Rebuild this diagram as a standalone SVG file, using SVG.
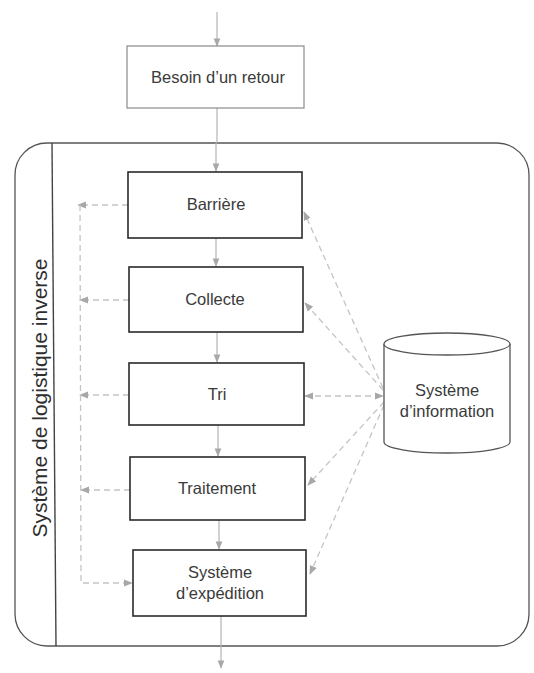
<svg xmlns="http://www.w3.org/2000/svg" width="534" height="673" viewBox="0 0 534 673">
  <style>
    .box { fill: #ffffff; stroke: #2a2a2a; stroke-width: 1.6; }
    .soft { fill: #ffffff; stroke: #8a8a8a; stroke-width: 1.2; }
    .lbl { font-family: "Liberation Sans", Arial, sans-serif; font-size: 16.5px; fill: #3a3a3a; text-anchor: middle; }
    .side { font-family: "Liberation Sans", Arial, sans-serif; font-size: 21px; fill: #2e2e2e; text-anchor: middle; }
    .flow { fill: none; stroke: #b4b4b4; stroke-width: 1.2; }
    .dash { fill: none; stroke: #c4c4c4; stroke-width: 1.3; stroke-dasharray: 6 4; }
  </style>
  <defs>
    <marker id="ah" viewBox="0 0 10 10" refX="9" refY="5" markerWidth="7" markerHeight="7" orient="auto-start-reverse">
      <path d="M0,1 L10,5 L0,9 z" fill="#a8a8a8"/>
    </marker>
  </defs>
  <rect width="534" height="673" fill="#ffffff"/>

  <!-- container frame -->
  <g id="container">
    <rect x="15" y="143" width="514" height="503" rx="32" ry="32" fill="none" stroke="#555555" stroke-width="1.3"/>
    <line x1="52" y1="143" x2="56" y2="646" stroke="#444444" stroke-width="1.4"/>
    <text class="side" transform="translate(47 398) rotate(-90)">Système de logistique inverse</text>
  </g>

  <!-- connectors -->
  <g id="connectors">
    <line class="flow" x1="217" y1="12" x2="217" y2="46" marker-end="url(#ah)"/>
    <line class="flow" x1="217" y1="108" x2="217" y2="143"/>
    <line class="flow" x1="216" y1="143" x2="216" y2="171" marker-end="url(#ah)"/>
    <line class="flow" x1="216" y1="238" x2="216" y2="266" marker-end="url(#ah)"/>
    <line class="flow" x1="217" y1="332" x2="217" y2="362" marker-end="url(#ah)"/>
    <line class="flow" x1="218" y1="425" x2="218" y2="456" marker-end="url(#ah)"/>
    <line class="flow" x1="219" y1="520" x2="219" y2="549" marker-end="url(#ah)"/>
    <line class="flow" x1="221" y1="616" x2="221" y2="668" marker-end="url(#ah)"/>

    <!-- exits to shipping -->
    <line class="dash" x1="128" y1="205" x2="78" y2="205" marker-end="url(#ah)"/>
    <line class="dash" x1="129" y1="300" x2="80" y2="300" marker-end="url(#ah)"/>
    <line class="dash" x1="129" y1="395" x2="80" y2="395" marker-end="url(#ah)"/>
    <line class="dash" x1="130" y1="490" x2="81" y2="490" marker-end="url(#ah)"/>
    <path class="dash" d="M80,205 L81,583 L132,583" marker-end="url(#ah)"/>

    <!-- information system links -->
    <line class="dash" x1="383" y1="388" x2="304" y2="212" marker-end="url(#ah)"/>
    <line class="dash" x1="383" y1="390" x2="305" y2="303" marker-end="url(#ah)"/>
    <line class="dash" x1="305" y1="396" x2="383" y2="396" marker-start="url(#ah)" marker-end="url(#ah)"/>
    <line class="dash" x1="384" y1="402" x2="308" y2="485" marker-end="url(#ah)"/>
    <line class="dash" x1="384" y1="405" x2="310" y2="574" marker-end="url(#ah)"/>
  </g>

  <g id="besoin">
    <rect class="soft" x="127" y="46" width="177" height="62"/>
    <text class="lbl" x="218" y="83">Besoin d’un retour</text>
  </g>
  <g id="barriere">
    <rect class="box" x="128" y="172" width="174" height="66"/>
    <text class="lbl" x="216" y="210">Barrière</text>
  </g>
  <g id="collecte">
    <rect class="box" x="129" y="267" width="174" height="65"/>
    <text class="lbl" x="215" y="305">Collecte</text>
  </g>
  <g id="tri">
    <rect class="box" x="129" y="363" width="175" height="62"/>
    <text class="lbl" x="217" y="400">Tri</text>
  </g>
  <g id="traitement">
    <rect class="box" x="130" y="457" width="175" height="63"/>
    <text class="lbl" x="217" y="494">Traitement</text>
  </g>
  <g id="expedition">
    <rect class="box" x="133" y="550" width="173" height="66"/>
    <text class="lbl" x="220" y="578">Système</text>
    <text class="lbl" x="220" y="599">d’expédition</text>
  </g>

  <g id="information">
    <path d="M384,344 L384,442 A63,11 0 0 0 510,442 L510,344" fill="#ffffff" stroke="#555555" stroke-width="1.3"/>
    <ellipse cx="447" cy="344" rx="63" ry="11" fill="#ffffff" stroke="#555555" stroke-width="1.3"/>
    <text class="lbl" x="447" y="396">Système</text>
    <text class="lbl" x="447" y="417">d’information</text>
  </g>
</svg>
